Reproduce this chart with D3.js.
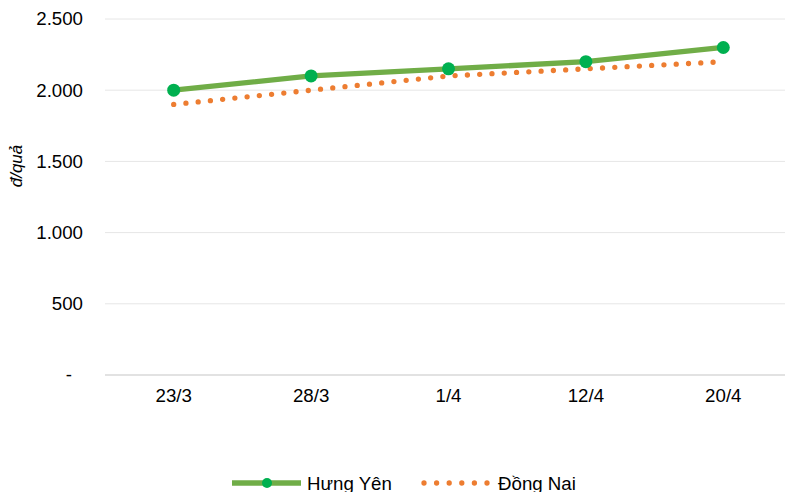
<!DOCTYPE html>
<html>
<head>
<meta charset="utf-8">
<script src="https://cdn.jsdelivr.net/npm/d3@7"></script>
<style>
  html, body { margin: 0; padding: 0; background: #fff; }
  svg { display: block; font-family: "Liberation Sans", Arial, sans-serif; }
</style>
</head>
<body>
<svg id="chart" width="785" height="492"></svg>
<script>
const categories = ["23/3", "28/3", "1/4", "12/4", "20/4"];
const hungYen = [2000, 2100, 2150, 2200, 2300];
const dongNai = [1900, 2000, 2100, 2150, 2200];
const yTicks = [0, 500, 1000, 1500, 2000, 2500];
const seriesNames = ["Hưng Yên", "Đồng Nai"];
const yAxisTitle = "đ/quả";

(function () {
const svg = d3.select("#chart");
const mLeft = 105, mRight = 792, mTop = 19, mBottom = 375;

const x = d3.scaleBand().domain(categories).range([mLeft, mRight]);
const y = d3.scaleLinear().domain([0, 2500]).range([mBottom, mTop]);
const fmt = v => v === 0 ? "-" : d3.format(",")(v).replace(/,/g, ".");

// gridlines
svg.append("g").selectAll("line").data(yTicks.filter(d => d > 0)).join("line")
  .attr("x1", mLeft).attr("x2", 785)
  .attr("y1", d => y(d)).attr("y2", d => y(d))
  .attr("stroke", "#e6e6e6").attr("stroke-width", 1);

// x axis line
svg.append("line").attr("x1", mLeft).attr("x2", 785)
  .attr("y1", y(0)).attr("y2", y(0))
  .attr("stroke", "#d9d9d9").attr("stroke-width", 1.5);

// y axis labels
const yAxis = d3.axisLeft(y).tickValues(yTicks).tickFormat(fmt).tickSize(0).tickPadding(0);
const gy = svg.append("g").attr("transform", "translate(83,0)").call(yAxis);
gy.select(".domain").remove();
gy.selectAll("text").attr("font-size", "18.7px").attr("fill", "#000")
  .attr("font-family", "Liberation Sans, Arial, sans-serif")
  .attr("dx", d => d === 0 ? -11 : 0);

// x axis labels
const xAxis = d3.axisBottom(x).tickSize(0).tickPadding(0);
const gx = svg.append("g").attr("transform", "translate(0,389)").call(xAxis);
gx.select(".domain").remove();
gx.selectAll("text").attr("font-size", "18.7px").attr("fill", "#000")
  .attr("font-family", "Liberation Sans, Arial, sans-serif");

// y axis title
svg.append("text")
  .attr("transform", "translate(22,166) rotate(-90)")
  .attr("text-anchor", "middle")
  .attr("font-size", "17px").attr("font-style", "italic").attr("fill", "#000")
  .text(yAxisTitle);

const cx = c => x(c) + x.bandwidth() / 2;
const line = d3.line().x(d => cx(d.c)).y(d => y(d.v));

// Đồng Nai dotted
svg.append("path")
  .datum(categories.map((c, i) => ({ c, v: dongNai[i] })))
  .attr("d", line).attr("fill", "none")
  .attr("stroke", "#ED7D31").attr("stroke-width", 5.3)
  .attr("stroke-linecap", "round").attr("stroke-dasharray", "0 12.3");

// Hưng Yên solid with markers
const hyData = categories.map((c, i) => ({ c, v: hungYen[i] }));
svg.append("path")
  .datum(hyData).attr("d", line).attr("fill", "none")
  .attr("stroke", "#70AD47").attr("stroke-width", 5.3)
  .attr("stroke-linejoin", "round");
svg.append("g").selectAll("circle").data(hyData).join("circle")
  .attr("cx", d => cx(d.c)).attr("cy", d => y(d.v)).attr("r", 6.5)
  .attr("fill", "#00B050");

// legend
const ly = 483;
svg.append("line").attr("x1", 232).attr("x2", 301).attr("y1", ly).attr("y2", ly)
  .attr("stroke", "#70AD47").attr("stroke-width", 5.3);
svg.append("circle").attr("cx", 267).attr("cy", ly).attr("r", 5).attr("fill", "#00B050");
svg.append("text").attr("x", 307).attr("y", ly + 6.5).attr("font-size", "18.7px").text(seriesNames[0]);

svg.append("line").attr("x1", 424).attr("x2", 488).attr("y1", ly).attr("y2", ly)
  .attr("stroke", "#ED7D31").attr("stroke-width", 5.3)
  .attr("stroke-linecap", "round").attr("stroke-dasharray", "0 12.6");
svg.append("text").attr("x", 498).attr("y", ly + 6.5).attr("font-size", "18.7px").text(seriesNames[1]);
})();
</script>
</body>
</html>
